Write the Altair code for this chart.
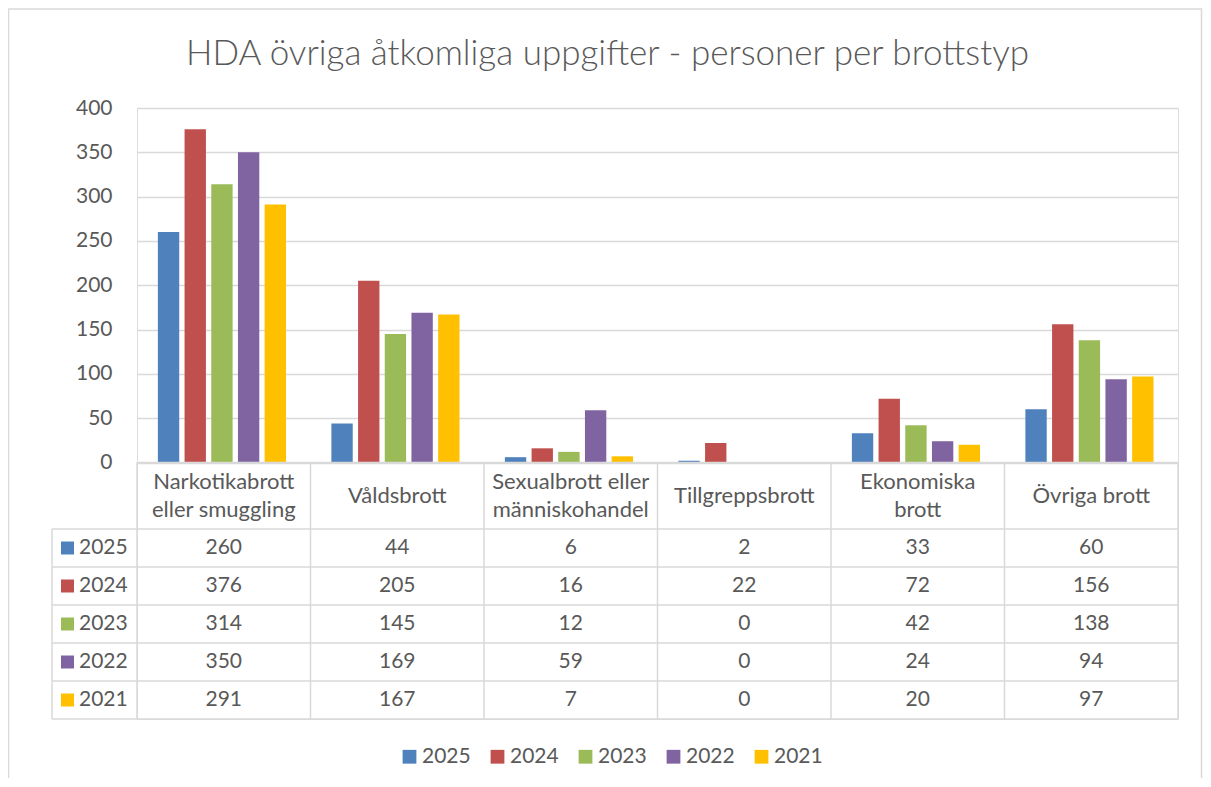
import altair as alt
import pandas as pd

title_text = "HDA övriga åtkomliga uppgifter - personer per brottstyp"
categories = ["Narkotikabrott eller smuggling", "Våldsbrott", "Sexualbrott eller människohandel",
              "Tillgreppsbrott", "Ekonomiska brott", "Övriga brott"]
category_labels = ["Narkotikabrott\neller smuggling", "Våldsbrott", "Sexualbrott eller\nmänniskohandel",
                   "Tillgreppsbrott", "Ekonomiska\nbrott", "Övriga brott"]
category_lines = [2, 1, 2, 1, 2, 1]
years = ["2025", "2024", "2023", "2022", "2021"]
colors = ["#4F81BD", "#C0504D", "#9BBB59", "#8064A2", "#FFC000"]
v2025 = [260, 44, 6, 2, 33, 60]
v2024 = [376, 205, 16, 22, 72, 156]
v2023 = [314, 145, 12, 0, 42, 138]
v2022 = [350, 169, 59, 0, 24, 94]
v2021 = [291, 167, 7, 0, 20, 97]
y_ticks = [0, 50, 100, 150, 200, 250, 300, 350, 400]

series = {"2025": v2025, "2024": v2024, "2023": v2023, "2022": v2022, "2021": v2021}
rows = []
for yr in years:
    for c, v in zip(categories, series[yr]):
        rows.append({"category": c, "year": yr, "value": v})
df = pd.DataFrame(rows)
cat_df = pd.DataFrame({"category": categories, "label": category_labels, "lines": category_lines})
year_df = pd.DataFrame({"year": years})
one = pd.DataFrame({"a": [0]})

W = 1041
H = 611
Y0 = 354.5     # zero line / table top
HDR = 421      # bottom of header row
LEFT = -85     # left edge of year column
TXT = "#595959"
LINE = "#D9D9D9"
FONT = "Lato"
FS = 21
FS_HDR = 22

xenc = alt.X("category:N", sort=categories,
             scale=alt.Scale(domain=categories, paddingInner=0, paddingOuter=0), axis=None)
xedge = alt.X("category:N", sort=categories, bandPosition=0,
              scale=alt.Scale(domain=categories, paddingInner=0, paddingOuter=0), axis=None)
yrow = alt.Y("year:O", sort=years,
             scale=alt.Scale(domain=years, range=[HDR, H], paddingInner=0, paddingOuter=0), axis=None)
yrow_edge = alt.Y("year:O", sort=years, bandPosition=0,
                  scale=alt.Scale(domain=years, range=[HDR, H], paddingInner=0, paddingOuter=0), axis=None)
color = alt.Color("year:N", sort=years, scale=alt.Scale(domain=years, range=colors),
                  legend=alt.Legend(orient="none", legendX=262, legendY=638, direction="horizontal",
                                    title=None, symbolType="square", symbolSize=190,
                                    symbolStrokeWidth=0, labelFontSize=FS, labelColor=TXT,
                                    labelFont=FONT, labelOffset=2, columnPadding=16, padding=0))

frame = alt.Chart(one).mark_rect(fill=None, stroke=LINE, strokeWidth=1.5, clip=False).encode(
    x=alt.value(-128.5), x2=alt.value(1064.5), y=alt.value(-99), y2=alt.value(720))

title = alt.Chart(one).mark_text(text=title_text, font=FONT, fontSize=35, fontWeight=300,
                                 color=TXT, align="center", baseline="alphabetic").encode(
    x=alt.value(470.5), y=alt.value(-43))

bars = alt.Chart(df).mark_bar().encode(
    x=xenc,
    xOffset=alt.XOffset("year:N", sort=years,
                        scale=alt.Scale(domain=years, paddingInner=0.2, paddingOuter=0.85, align=0.46)),
    y=alt.Y("value:Q", scale=alt.Scale(domain=[0, 400], range=[Y0, 0], nice=False, zero=True),
            axis=alt.Axis(values=y_ticks, grid=True, gridColor=LINE, gridWidth=1.5, domain=False,
                          ticks=False, labelFontSize=FS, labelColor=TXT, labelFont=FONT,
                          labelPadding=25, title=None)),
    color=color,
)

# table lines
hline_top = alt.Chart(one).mark_rule(color=LINE, strokeWidth=1.5).encode(
    x=alt.value(0), x2=alt.value(W), y=alt.value(Y0))
hline_rows = alt.Chart(year_df).mark_rule(color=LINE, strokeWidth=1.5).encode(
    x=alt.value(LEFT), x2=alt.value(W), y=yrow_edge)
hline_bottom = alt.Chart(one).mark_rule(color=LINE, strokeWidth=1.5).encode(
    x=alt.value(LEFT), x2=alt.value(W), y=alt.value(H))
vline_cats = alt.Chart(cat_df).mark_rule(color=LINE, strokeWidth=1.5).encode(
    x=xedge, y=alt.value(Y0), y2=alt.value(H))
vline_right = alt.Chart(one).mark_rule(color=LINE, strokeWidth=1.5).encode(
    x=alt.value(W), y=alt.value(Y0), y2=alt.value(H))
vline_left = alt.Chart(one).mark_rule(color=LINE, strokeWidth=1.5).encode(
    x=alt.value(LEFT), y=alt.value(HDR), y2=alt.value(H))

hdr_y = (Y0 + HDR) / 2
headers_1 = alt.Chart(cat_df).transform_filter("datum.lines == 1").mark_text(
    font=FONT, fontSize=FS_HDR, color=TXT, lineBreak="\n", lineHeight=28,
    align="center", baseline="middle").encode(
    x=xenc, y=alt.value(hdr_y), text="label:N")
headers_2 = alt.Chart(cat_df).transform_filter("datum.lines == 2").mark_text(
    font=FONT, fontSize=FS_HDR, color=TXT, lineBreak="\n", lineHeight=28,
    align="center", baseline="middle", dy=-14).encode(
    x=xenc, y=alt.value(hdr_y), text="label:N")

cells = alt.Chart(df).mark_text(font=FONT, fontSize=FS, color=TXT, align="center",
                                baseline="middle").encode(
    x=xenc, y=yrow, text="value:Q")

swatches = alt.Chart(year_df).mark_square(size=169, opacity=1).encode(
    x=alt.value(-69.5), y=yrow, color=color)

year_labels = alt.Chart(year_df).mark_text(font=FONT, fontSize=FS, color=TXT, align="left",
                                           baseline="middle").encode(
    x=alt.value(-58), y=yrow, text="year:N")

chart = alt.layer(
    frame, title, bars, hline_top, hline_rows, hline_bottom, vline_cats, vline_right, vline_left,
    headers_1, headers_2, cells, swatches, year_labels
).resolve_scale(y="independent").properties(
    width=W, height=H,
    autosize=alt.AutoSizeParams(type="none"),
    padding={"left": 129, "top": 100, "right": 25, "bottom": 59},
).configure_view(stroke=None).configure(font=FONT)

chart.save("out.html", embed_options={"renderer": "svg", "actions": False})
